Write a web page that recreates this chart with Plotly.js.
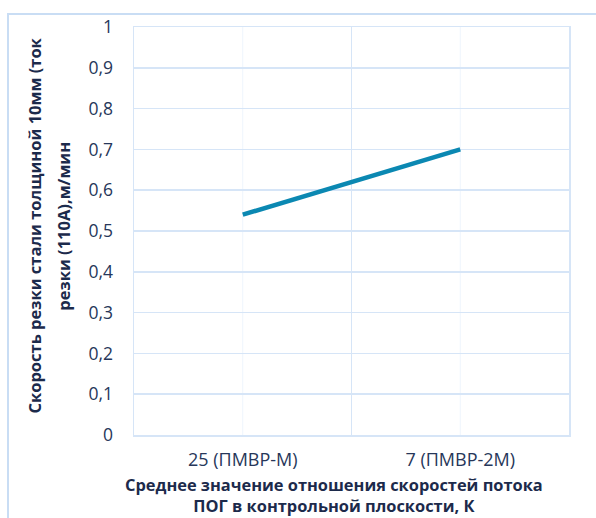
<!DOCTYPE html>
<html>
<head>
<meta charset="utf-8">
<script src="https://cdn.plot.ly/plotly-3.0.1.min.js"></script>
<style>
  html, body { margin: 0; padding: 0; background: #ffffff; }
  #wrap { position: relative; width: 596px; height: 518px; overflow: hidden; }
  #chart { width: 596px; height: 518px; }
  #frame {
    position: absolute; left: 7px; top: 13px; width: 620px; height: 540px;
    border-left: 2px solid #c9ddf4; border-top: 2px solid #c9ddf4;
    pointer-events: none;
  }
</style>
</head>
<body>
<div id="wrap">
  <div id="chart"></div>
  <div id="frame"></div>
</div>
<script>
// Categories: mean flow-velocity ratio K (torch model)
const categories = ['25 (ПМВР-М)', '7 (ПМВР-2М)'];
// Cutting speed of 10 mm steel at 110 A, m/min
const speeds = [0.54, 0.70];
const yTicks = [0, 0.1, 0.2, 0.3, 0.4, 0.5, 0.6, 0.7, 0.8, 0.9, 1];
const yTickText = ['0', '0,1', '0,2', '0,3', '0,4', '0,5', '0,6', '0,7', '0,8', '0,9', '1'];
const yTitleLines = ['Скорость резки стали толщиной 10мм (ток', 'резки (110А),м/мин'];
const xTitleLines = ['Среднее значение отношения скоростей потока', 'ПОГ в контрольной плоскости, К'];

const textColor = '#27375a';
const titleColor = '#1c2a4b';
const gridColor = '#d6e5f7';
const fontFam = 'Open Sans, Noto Sans, sans-serif';

const trace = {
  type: 'scatter',
  mode: 'lines',
  x: categories,
  y: speeds,
  line: { color: '#0b88b2', width: 4.5 },
  hoverinfo: 'x+y'
};

// faint lines through each category centre
const centreLines = categories.map((c, i) => ({
  type: 'line', xref: 'x', yref: 'paper',
  x0: i, x1: i, y0: 0, y1: 1,
  line: { color: '#eef5fd', width: 1 },
  layer: 'below'
}));

// axis titles: y title as two rotated lines, x title as one two-line block
const yTitleX = [-0.228, -0.161];
const titleAnnotations = [
  ...yTitleLines.map((t, i) => ({
    text: '<b>' + t + '</b>', xref: 'paper', yref: 'paper',
    x: yTitleX[i], y: 0.513, xanchor: 'center', yanchor: 'middle',
    textangle: -90, showarrow: false,
    font: { size: 16.5, color: titleColor, family: fontFam }
  })),
  {
    text: '<b>' + xTitleLines.join('<br>') + '</b>', xref: 'paper', yref: 'paper',
    x: 0.46, y: -0.148, xanchor: 'center', yanchor: 'middle',
    align: 'center', showarrow: false,
    font: { size: 16.4, color: titleColor, family: fontFam }
  }
];

const layout = {
  width: 596,
  height: 518,
  margin: { l: 134, r: 27, t: 27, b: 83 },
  paper_bgcolor: '#ffffff',
  plot_bgcolor: '#ffffff',
  showlegend: false,
  font: { family: fontFam, color: textColor },
  xaxis: {
    type: 'category',
    range: [-0.5, categories.length - 0.5],
    tickson: 'boundaries',
    showgrid: true,
    gridcolor: gridColor,
    gridwidth: 1.5,
    showline: true,
    linecolor: gridColor,
    linewidth: 1.5,
    mirror: true,
    ticks: '',
    zeroline: false,
    ticklabelstandoff: 8,
    tickfont: { size: 18, color: textColor, family: fontFam }
  },
  yaxis: {
    range: [0, 1],
    tickvals: yTicks,
    ticktext: yTickText,
    showgrid: true,
    gridcolor: gridColor,
    gridwidth: 1.5,
    showline: true,
    linecolor: gridColor,
    linewidth: 1.5,
    mirror: true,
    zeroline: false,
    ticks: '',
    ticklabelstandoff: 16,
    tickfont: { size: 17.5, color: textColor, family: fontFam }
  },
  shapes: centreLines,
  annotations: titleAnnotations
};

Plotly.newPlot('chart', [trace], layout, { displayModeBar: false, staticPlot: true });
</script>
</body>
</html>
